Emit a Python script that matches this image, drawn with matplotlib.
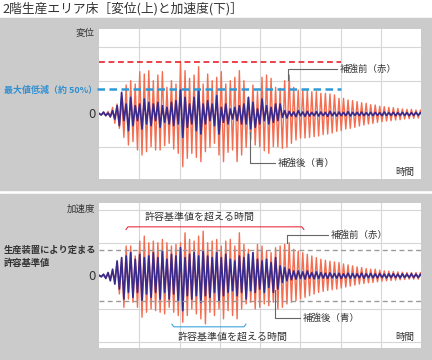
import numpy as np
import matplotlib

matplotlib.use("Agg")
import matplotlib.pyplot as plt
from matplotlib.patches import Rectangle

plt.rcParams["font.family"] = ["Noto Sans CJK JP", "DejaVu Sans"]

# one oscillation cycle on the time axis (8 grid columns = 8 units)
CYCLE = 0.1125

# --- displacement (top) : peak / trough amplitude per cycle ---------------
disp_red_pos = [0.0, 0.03, 0.08, 0.2,
                0.3, 0.5, 0.87, 1.0, 0.9, 1.27, 1.2, 1.3, 1.0, 1.17,
                1.27, 0.8, 1.0, 0.9, 1.57, 1.3, 1.07, 1.17, 1.42, 0.9,
                1.2, 1.0, 1.1, 1.27, 0.9, 1.0, 1.1, 1.3, 1.0, 0.5,
                0.87, 0.67, 1.1, 1.17, 1.07, 0.8, 0.77, 1.0, 1.17, 0.8,
                0.72, 0.72, 0.7, 0.67, 0.67, 0.62, 0.62, 0.6, 0.57, 0.47,
                0.47, 0.42, 0.4, 0.37, 0.34, 0.32, 0.28, 0.27, 0.23, 0.22,
                0.2, 0.19, 0.17, 0.15, 0.14, 0.14, 0.12, 0.12]
disp_red_neg = [0.02, 0.05, 0.1, 0.28,
                0.43, 0.7, 0.93, 0.83, 1.08, 1.23, 1.13, 0.98, 1.08, 1.08,
                0.95, 0.88, 1.05, 1.18, 1.58, 1.33, 1.18, 1.3, 1.43, 1.13,
                1.0, 0.88, 1.23, 1.43, 1.15, 1.08, 1.43, 1.23, 1.0, 0.78,
                0.93, 0.98, 1.1, 1.18, 0.98, 0.98, 1.03, 1.0, 0.88, 0.78,
                0.72, 0.72, 0.7, 0.68, 0.66, 0.62, 0.6, 0.57, 0.52, 0.5,
                0.45, 0.43, 0.4, 0.36, 0.33, 0.3, 0.28, 0.25, 0.23, 0.21,
                0.2, 0.18, 0.17, 0.15, 0.14, 0.13, 0.12, 0.1]
disp_blue_pos = [0.02, 0.06, 0.03, 0.1,
                 0.25, 0.65, 0.3, 0.5, 0.25, 0.3, 0.45, 0.35, 0.3, 0.35,
                 0.25, 0.2, 0.35, 0.4, 0.72, 0.5, 0.3, 0.5, 0.7, 0.3,
                 0.4, 0.3, 0.55, 0.2, 0.3, 0.15, 0.2, 0.25, 0.3, 0.5,
                 0.35, 0.15, 0.45, 0.25, 0.2, 0.3, 0.3, 0.1,
                 0.08, 0.06, 0.1, 0.06, 0.08, 0.05, 0.07, 0.06, 0.05, 0.08,
                 0.05, 0.06, 0.05, 0.07, 0.05, 0.05, 0.06, 0.04, 0.05, 0.05,
                 0.04, 0.06, 0.04, 0.05, 0.04, 0.05, 0.04, 0.04, 0.05, 0.04]
disp_blue_neg = [0.03, 0.05, 0.08, 0.15,
                 0.35, 0.2, 0.5, 0.35, 0.2, 0.45, 0.3, 0.35, 0.2, 0.4,
                 0.25, 0.3, 0.35, 0.3, 0.7, 0.4, 0.3, 0.5, 0.6, 0.3,
                 0.2, 0.35, 0.6, 0.25, 0.3, 0.15, 0.2, 0.3, 0.3, 0.45,
                 0.4, 0.3, 0.2, 0.3, 0.25, 0.2, 0.1, 0.12,
                 0.06, 0.08, 0.05, 0.07, 0.06, 0.05, 0.06, 0.05, 0.07, 0.05,
                 0.06, 0.05, 0.05, 0.06, 0.04, 0.05, 0.05, 0.04, 0.05, 0.04,
                 0.05, 0.04, 0.04, 0.05, 0.04, 0.04, 0.05, 0.04, 0.04, 0.04]
disp_max_before = 1.56
disp_max_after = 0.75

# --- acceleration (bottom) ------------------------------------------------
acc_red_pos = [0.0, 0.02, 0.05, 0.15,
               0.4, 0.5, 0.9, 0.9, 0.6, 1.05, 1.2, 1.0, 1.05, 1.0,
               1.1, 1.0, 0.9, 0.95, 1.0, 1.3, 1.1, 1.05, 1.2, 1.35,
               1.0, 1.05, 1.1, 0.9, 1.05, 1.1, 0.9, 1.3, 0.95, 0.8,
               0.7, 0.95, 0.9, 0.75, 0.7, 0.85, 0.9, 0.95, 1.0, 0.8,
               0.75, 0.7, 0.65, 0.6, 0.55, 0.5, 0.47, 0.44, 0.42, 0.4,
               0.36, 0.33, 0.3, 0.27, 0.25, 0.22, 0.2, 0.2, 0.17, 0.15,
               0.14, 0.13, 0.12, 0.11, 0.1, 0.1, 0.1, 0.1]
acc_red_neg = [0.0, 0.03, 0.08, 0.12,
               0.55, 0.95, 0.7, 0.8, 0.95, 1.25, 1.1, 1.0, 1.05, 1.1,
               1.15, 0.95, 1.1, 1.2, 1.4, 1.2, 1.0, 1.15, 1.3, 1.45,
               1.1, 1.2, 1.0, 1.3, 1.05, 1.2, 1.3, 1.0, 0.85, 0.8,
               1.0, 0.95, 0.85, 0.9, 0.8, 1.0, 0.95, 0.85, 0.8, 0.75,
               0.7, 0.65, 0.6, 0.55, 0.5, 0.47, 0.44, 0.42, 0.4, 0.37,
               0.34, 0.31, 0.28, 0.25, 0.23, 0.21, 0.2, 0.18, 0.16, 0.15,
               0.14, 0.13, 0.12, 0.11, 0.1, 0.1, 0.1, 0.1]
acc_blue_pos = [0.02, 0.05, 0.1, 0.2,
                0.45, 0.55, 0.6, 0.7, 0.5, 0.65, 0.55, 0.6, 0.7, 0.55,
                0.75, 0.5, 0.65, 0.6, 0.85, 0.55, 0.65, 0.7, 0.6, 0.75,
                0.6, 0.55, 0.7, 0.55, 0.65, 0.5, 0.45, 0.6, 0.55, 0.65,
                0.7, 0.5, 0.45, 0.5, 0.4, 0.55, 0.3, 0.25, 0.2, 0.15,
                0.15, 0.12, 0.15, 0.1, 0.12, 0.1,
                0.08, 0.09, 0.07, 0.08, 0.06, 0.08, 0.07, 0.06, 0.08, 0.06,
                0.07, 0.06, 0.07, 0.05, 0.06, 0.06, 0.05, 0.06, 0.05, 0.06,
                0.05, 0.05]
acc_blue_neg = [0.03, 0.08, 0.15, 0.25,
                0.4, 0.7, 0.5, 0.65, 0.5, 0.75, 0.55, 0.65, 0.5, 0.7,
                0.5, 0.7, 0.55, 0.75, 1.05, 0.6, 0.7, 0.6, 0.8, 0.6,
                0.65, 0.5, 0.75, 0.6, 0.5, 0.45, 0.6, 0.5, 0.7, 0.45,
                0.5, 0.4, 0.5, 0.35, 0.5, 0.4, 0.2, 0.15, 0.12,
                0.1, 0.08, 0.1, 0.07, 0.09, 0.08, 0.07, 0.08, 0.06, 0.07,
                0.08, 0.06, 0.07, 0.06, 0.06, 0.07, 0.05, 0.06, 0.06, 0.05,
                0.06, 0.05, 0.05, 0.06, 0.05, 0.05, 0.05, 0.05, 0.05]
acc_limit = 0.77

RED = "#f36d50"
BLUE = "#3a2a8c"
TXT = "#333333"
LEAD = "#666666"

W, H = 432, 360


def zigzag(pos, neg):
    vals = []
    for p, n in zip(pos, neg):
        vals += [p, -n]
    vals = np.array(vals)
    return np.arange(len(vals)) * CYCLE / 2, vals


def px_axes(fig, x0, y0, x1, y1):
    return fig.add_axes([x0 / W, 1 - y1 / H, (x1 - x0) / W, (y1 - y0) / H])


def ftext(fig, x, y, s, **kw):
    fig.text(x / W, 1 - y / H, s, **kw)


def style(ax, ylim, hlines):
    ax.set_xlim(0, 8)
    ax.set_ylim(*ylim)
    ax.set_facecolor("white")
    for sp in ax.spines.values():
        sp.set_visible(False)
    ax.set_xticks([])
    ax.set_yticks([])
    for x in range(1, 8):
        ax.axvline(x, color="#d6d6d6", lw=0.8, zorder=0)
    for y in hlines:
        ax.axhline(y, color="#d6d6d6", lw=0.8, zorder=0)


def leader(ax, x, y0, y1, x1, label):
    ax.plot([x, x, x1], [y0, y1, y1], color=LEAD, lw=0.8, zorder=5)
    ax.text(x1 + 0.06, y1, label, fontsize=6.8, color=TXT, va="center", ha="left", zorder=6)


fig = plt.figure(figsize=(W / 100, H / 100), dpi=100)
fig.patch.set_facecolor("white")
fig.add_artist(Rectangle((0, 1 - 190 / H), 1, 172 / H, transform=fig.transFigure,
                         color="#cbcbcb", zorder=-10))
fig.add_artist(Rectangle((0, 0), 1, 166 / H, transform=fig.transFigure,
                         color="#cbcbcb", zorder=-10))

ftext(fig, 2, 9, "2階生産エリア床［変位(上)と加速度(下)］", fontsize=9.2, color=TXT, va="center")

# ---------------- top: displacement ----------------
ax = px_axes(fig, 99, 29, 421, 179)
style(ax, (-1.95, 2.55), [-1, 0, 1, 2])
t, v = zigzag(disp_red_pos, disp_red_neg)
ax.plot(t, v, color=RED, lw=1.0, zorder=2)
t, v = zigzag(disp_blue_pos, disp_blue_neg)
ax.plot(t, v, color=BLUE, lw=1.25, zorder=3)
ax.plot([0, 6.0], [disp_max_before] * 2, color="#e8202a", lw=1.2, ls=(0, (3.5, 2.2)), zorder=4)
ax.plot([-0.05, 6.0], [disp_max_after] * 2, color="#2f9ad6", lw=1.8, ls=(0, (3.0, 1.8)),
        zorder=4, clip_on=False)
leader(ax, 4.70, 1.02, 1.34, 5.91, "補強前（赤）")
leader(ax, 3.75, -0.54, -1.48, 4.37, "補強後（青）")
ax.text(7.6, -1.74, "時間", fontsize=6.8, color=TXT, ha="center", va="center")

ftext(fig, 95, 33, "変位", fontsize=6.8, color=TXT, ha="right", va="center")
ftext(fig, 96, 114, "0", fontsize=8.5, color=TXT, ha="right", va="center", family="DejaVu Sans")
ftext(fig, 97, 90, "最大値低減（約 50%）", fontsize=6.45, color="#2f8fd0", fontweight="bold",
      ha="right", va="center")

# ---------------- bottom: acceleration ----------------
ax = px_axes(fig, 99, 203, 421, 348)
style(ax, (-2.18, 2.2), [-2, -1, 0, 1, 2])
t, v = zigzag(acc_red_pos, acc_red_neg)
ax.plot(t, v, color=RED, lw=1.0, zorder=2)
t, v = zigzag(acc_blue_pos, acc_blue_neg)
ax.plot(t, v, color=BLUE, lw=1.25, zorder=3)
for y in (acc_limit, -acc_limit):
    ax.axhline(y, color="#9a9a9a", lw=1.0, ls=(0, (3.5, 2.5)), zorder=4)

# time above the limit: before (red) / after (blue)
ax.plot([0.67, 0.72, 5.04, 5.09], [1.40, 1.48, 1.48, 1.40], color="#e83040", lw=0.8, zorder=5)
ax.text(2.51, 1.79, "許容基準値を超える時間", fontsize=7.2, color=TXT, ha="center", va="center")
ax.plot([1.81, 1.86, 3.60, 3.65], [-1.46, -1.54, -1.54, -1.46], color="#3aa5e0", lw=0.8, zorder=5)
ax.text(3.33, -1.85, "許容基準値を超える時間", fontsize=7.2, color=TXT, ha="center", va="center")

leader(ax, 4.66, 1.0, 1.22, 5.69, "補強前（赤）")
leader(ax, 4.37, -0.42, -1.28, 4.99, "補強後（青）")
ax.text(7.6, -1.85, "時間", fontsize=6.8, color=TXT, ha="center", va="center")

ftext(fig, 95, 209, "加速度", fontsize=6.8, color=TXT, ha="right", va="center")
ftext(fig, 96, 276, "0", fontsize=8.5, color=TXT, ha="right", va="center", family="DejaVu Sans")
ftext(fig, 4, 250, "生産装置により定まる", fontsize=6.7, color=TXT, fontweight="bold",
      ha="left", va="center")
ftext(fig, 4, 263, "許容基準値", fontsize=6.7, color=TXT, fontweight="bold",
      ha="left", va="center")

fig.savefig("out.png", dpi=100)
